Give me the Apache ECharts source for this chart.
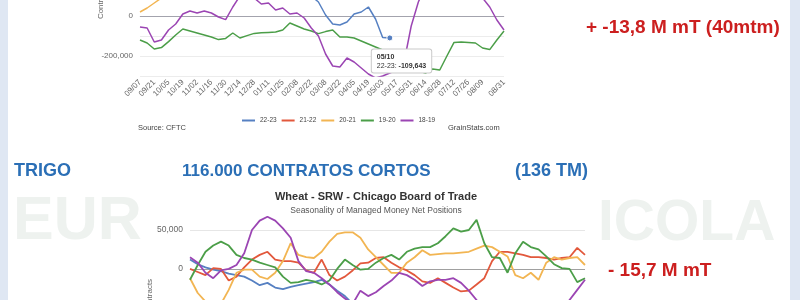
<!DOCTYPE html>
<html><head><meta charset="utf-8">
<script src="https://cdn.jsdelivr.net/npm/echarts@6/dist/echarts.min.js"></script>
<style>html,body{margin:0;padding:0;background:#fff}#c{width:800px;height:300px}</style>
</head><body><div id="c"></div>
<script>
// weekly categories (tick labels)
const weeks = ['09/07','09/14','09/21','09/28','10/05','10/12','10/19','10/26','11/02','11/09','11/16','11/23','11/30','12/07','12/14','12/21','12/28','01/04','01/11','01/18','01/25','02/01','02/08','02/15','02/22','03/01','03/08','03/15','03/22','03/29','04/05','04/12','04/19','04/26','05/03','05/10','05/17','05/24','05/31','06/07','06/14','06/21','06/28','07/05','07/12','07/19','07/26','08/02','08/09','08/16','08/23','08/31'];
const seasons = ['22-23','21-22','20-21','19-20','18-19'];

// Top chart (net positions, contracts)
const top2223 = [180000,200000,210000,230000,250000,260000,250000,240000,230000,220000,215000,210000,200000,190000,185000,180000,170000,165000,160000,150000,140000,130000,120000,110000,100000,70000,5000,-40000,-45000,-30000,10000,20000,45000,-15000,-108000,-109643];
const top2122 = [150000,160000,170000,180000,175000,185000,190000,200000,210000,205000,215000,220000,230000,240000,235000,245000,250000,255000,260000,250000,245000,240000,235000,230000,225000,220000,210000,205000,200000,195000,190000,185000,180000,175000,170000,165000,160000,150000,140000,135000,130000,125000,120000,125000,130000,140000,150000,145000,140000,135000,130000,125000];
const top2021 = [20000,40000,65000,90000,120000,150000,170000,185000,200000,210000,220000,225000,230000,240000,250000,255000,260000,262000,265000,270000,272000,275000,270000,268000,265000,262000,260000,258000,255000,250000,248000,245000,240000,238000,235000,230000,228000,225000,220000,215000,210000,205000,200000,195000,190000,185000,180000,175000,170000,165000,160000,150000];
const top1920 = [-120000,-135000,-165000,-158000,-128000,-95000,-65000,-75000,-85000,-95000,-105000,-118000,-112000,-85000,-110000,-98000,-87000,-84000,-82000,-80000,-70000,-35000,-50000,-65000,-75000,-88000,-78000,-70000,-105000,-105000,-110000,-125000,-140000,-155000,-170000,-185000,-240000,-258000,-262000,-275000,-285000,-265000,-270000,-200000,-132000,-130000,-132000,-135000,-160000,-168000,-120000,-75000];
const top1819 = [-55000,-60000,-130000,-120000,-70000,-40000,10000,25000,15000,25000,15000,-5000,-18000,45000,100000,130000,90000,60000,65000,30000,40000,10000,15000,-10000,-60000,-100000,-190000,-250000,-255000,-210000,-230000,-260000,-290000,-310000,-300000,-285000,-270000,-230000,-50000,70000,150000,200000,220000,200000,180000,160000,150000,120000,90000,45000,-20000,-70000];
const topTicks = [-200000, 0];
const tipIndex = 35; // highlighted point (05/10)

// Bottom chart: Wheat SRW managed money net positions
const bot2223 = [12000,6000,2000,-1000,-3000,-6000,-8000,-10000,-15000,-21000,-18000,-24000,-26000,-23000,-21000,-19000,-17000,-14000,-20000,-28000,-35000,-45000,-55000,-60000,-65000,-70000,-75000,-80000,-85000,-90000,-92000,-95000,-98000,-100000,-102000,-105000];
const bot2122 = [0,-4000,-8000,1000,0,-15000,-10000,2000,12000,18000,22000,12000,10000,10000,8000,-2000,-5000,12000,-8000,-15000,-10000,-2000,7000,8000,14000,15000,8000,2000,-2000,-8000,-16000,-18000,-12000,-18000,-24000,-29000,-28000,-20000,-12000,10000,22000,22000,20000,18000,15000,15000,14000,12000,14000,15000,27000,18000];
const bot2021 = [-12000,-31000,-42000,-50000,-45000,-27000,-5000,-1000,-1000,-10000,-13000,-5000,10000,33000,18000,15000,14000,22000,35000,45000,47000,47000,40000,25000,15000,5000,-5000,-5000,8000,15000,24000,18000,19000,20000,20000,21000,22000,26000,30000,28000,22000,16000,-8000,-12000,-5000,-14000,8000,15000,12000,14000,15000,5000];
const bot1920 = [-14000,5000,22000,30000,35000,30000,18000,14000,12000,8000,5000,2000,-10000,-18000,-17000,-14000,-16000,-20000,-15000,0,12000,5000,-1000,0,8000,14000,18000,12000,22000,26000,28000,28000,33000,42000,52000,48000,50000,63000,33000,15000,14000,-5000,20000,35000,28000,25000,16000,6000,1000,0,-17000,-12000];
const bot1819 = [15000,8000,-5000,-12000,-2000,0,5000,20000,50000,62000,67000,62000,52000,40000,10000,-3000,-5000,-12000,-20000,-30000,-38000,-45000,-28000,-35000,-30000,-22000,-15000,-5000,-8000,-14000,-22000,-16000,-14000,-14000,-12000,-18000,-28000,-40000,-55000,-65000,-70000,-75000,-72000,-68000,-70000,-75000,-72000,-65000,-55000,-40000,-27000,-14000];
const botTicks = [0, 50000];

const lineColors = ['#5680c2','#e2583c','#f2b552','#4b9e48','#9b45b3'];
const fmt = v => v.toLocaleString('en-US');
const chartFont = "'Liberation Sans', Arial, sans-serif";
const slideFont = "'Liberation Sans', Arial, sans-serif";

const topSets = [top2223, top2122, top2021, top1920, top1819];
const botSets = [bot2223, bot2122, bot2021, bot1920, bot1819];

const series = [];
topSets.forEach((arr, i) => {
  const s = {
    name: seasons[i], type: 'line', xAxisIndex: 0, yAxisIndex: 0, data: arr,
    symbol: 'none', smooth: false, silent: true,
    lineStyle: {color: lineColors[i], width: 1.5}, itemStyle: {color: lineColors[i]},
    z: 2 + i
  };
  if (i === 0) {
    s.markLine = {silent: true, symbol: 'none', label: {show: false}, z: 1,
      lineStyle: {color: '#a3a3ad', width: 1, type: 'solid'}, data: [{yAxis: 0}]};
    s.markPoint = {
      silent: true, animation: false, z: 30,
      data: [{
        coord: [tipIndex, arr[tipIndex]], symbol: 'circle', symbolSize: 6,
        itemStyle: {color: lineColors[0], borderColor: '#fff', borderWidth: 1},
        label: {
          show: true, position: 'bottom', distance: 8, offset: [-18, 0], align: 'left',
          backgroundColor: '#ffffff', borderColor: '#c9c9c9', borderWidth: 1, borderRadius: 2,
          padding: [3, 5, 2, 5],
          formatter: '{d|' + weeks[tipIndex] + '}\n{n|' + seasons[0] + ': }{v|' + fmt(arr[tipIndex]) + '}',
          rich: {
            d: {fontSize: 7, fontWeight: 'bold', color: '#333', fontFamily: chartFont, lineHeight: 9, align: 'left'},
            n: {fontSize: 7, color: '#333', fontFamily: chartFont, lineHeight: 9, align: 'left'},
            v: {fontSize: 7, fontWeight: 'bold', color: '#333', fontFamily: chartFont, lineHeight: 9, align: 'left'}
          }
        }
      }]
    };
  }
  series.push(s);
});
botSets.forEach((arr, i) => {
  const s = {
    name: seasons[i], type: 'line', xAxisIndex: 1, yAxisIndex: 1, data: arr,
    symbol: 'none', smooth: false, clip: false, silent: true,
    lineStyle: {color: lineColors[i], width: 1.8}, itemStyle: {color: lineColors[i]},
    z: 2 + i
  };
  if (i === 0) {
    s.markLine = {silent: true, symbol: 'none', label: {show: false}, z: 1,
      data: [
        {yAxis: botTicks[1], lineStyle: {color: '#e6e6e6', width: 1, type: 'solid'}},
        {yAxis: botTicks[0], lineStyle: {color: '#a0a0a0', width: 1, type: 'solid'}}
      ]};
  }
  series.push(s);
});

const txt = (x, y, text, size, color, opts) => ({
  type: 'text', x: x, y: y, silent: true,
  style: {text: text, fill: color, font: (opts && opts.weight ? opts.weight + ' ' : '') + size + 'px ' + ((opts && opts.family) || slideFont),
    textAlign: (opts && opts.align) || 'left', textVerticalAlign: 'middle'}
});

const option = {
  animation: false,
  backgroundColor: '#ffffff',
  textStyle: {fontFamily: chartFont},
  legend: {
    data: seasons, left: 237, top: 112, icon: 'rect', itemWidth: 13, itemHeight: 2, itemGap: 5,
    textStyle: {fontSize: 6.5, color: '#444', fontFamily: chartFont}, selectedMode: false
  },
  grid: [
    {left: 140, right: 296, top: 0, bottom: 224, containLabel: false},
    {left: 190, right: 215, top: 230, bottom: 0, containLabel: false}
  ],
  xAxis: [
    {type: 'category', gridIndex: 0, data: weeks, boundaryGap: false,
     axisLine: {show: true, lineStyle: {color: '#e3e3e3'}}, axisTick: {show: false},
     axisLabel: {rotate: 45, fontSize: 8, color: '#666', margin: 5, fontFamily: chartFont,
       showMaxLabel: true, hideOverlap: false,
       interval: (idx) => idx % 2 === 0 || idx === weeks.length - 1},
     splitLine: {show: false}},
    {type: 'category', gridIndex: 1, data: weeks, boundaryGap: false,
     axisLine: {show: false}, axisTick: {show: false}, axisLabel: {show: false}, splitLine: {show: false}}
  ],
  yAxis: [
    {type: 'value', gridIndex: 0, min: -300000, max: 80000, interval: 100000,
     axisLine: {show: false}, axisTick: {show: false},
     axisLabel: {fontSize: 8, color: '#666', margin: 7, fontFamily: chartFont,
       customValues: topTicks, formatter: v => fmt(v)},
     splitLine: {show: true, showMaxLine: false, lineStyle: {color: '#ececec', width: 1}}},
    {type: 'value', gridIndex: 1, min: -40000, max: 50000,
     axisLine: {show: false}, axisTick: {show: false},
     axisLabel: {fontSize: 8.5, color: '#666', margin: 7, fontFamily: chartFont, customValues: botTicks, formatter: v => fmt(v)},
     splitLine: {show: false}}
  ],
  graphic: [
    {type: 'rect', silent: true, z: -10, shape: {x: 0, y: 0, width: 8, height: 300}, style: {fill: '#dfe7f3'}},
    {type: 'rect', silent: true, z: -10, shape: {x: 790, y: 0, width: 10, height: 300}, style: {fill: '#dfe7f3'}},
    {type: 'text', silent: true, z: -9, x: 13, y: 253, style: {text: 'EUR', fill: '#eef2ef', font: 'bold 61px ' + slideFont, textAlign: 'left', textVerticalAlign: 'bottom'}},
    {type: 'text', silent: true, z: -9, x: 598, y: 253, style: {text: 'ICOLA', fill: '#eef2ef', font: 'bold 57px ' + slideFont, textAlign: 'left', textVerticalAlign: 'bottom'}},
    txt(14, 171, 'TRIGO', 18, '#2b6fb6', {weight: 'bold'}),
    txt(182, 171, '116.000 CONTRATOS CORTOS', 17, '#2b6fb6', {weight: 'bold'}),
    txt(515, 171, '(136 TM)', 18, '#2b6fb6', {weight: 'bold'}),
    txt(586, 28, '+ -13,8 M mT (40mtm)', 19, '#cc1f1f', {weight: 'bold'}),
    txt(608, 271, '- 15,7 M mT', 19, '#cc1f1f', {weight: 'bold'}),
    txt(138, 128, 'Source: CFTC', 7.5, '#444', {family: chartFont}),
    txt(448, 128, 'GrainStats.com', 7.5, '#444', {family: chartFont}),
    txt(376, 197, 'Wheat - SRW - Chicago Board of Trade', 11, '#333', {weight: 'bold', family: chartFont, align: 'center'}),
    txt(376, 211, 'Seasonality of Managed Money Net Positions', 8.5, '#555', {family: chartFont, align: 'center'}),
    {type: 'text', silent: true, x: 101, y: 2, rotation: Math.PI / 2,
     style: {text: 'Contracts', fill: '#666', font: '8px ' + chartFont, textAlign: 'center', textVerticalAlign: 'middle'}},
    {type: 'text', silent: true, x: 150, y: 296, rotation: Math.PI / 2,
     style: {text: 'Contracts', fill: '#666', font: '8px ' + chartFont, textAlign: 'center', textVerticalAlign: 'middle'}}
  ],
  series: series
};

const chart = echarts.init(document.getElementById('c'), null, {renderer: 'canvas'});
chart.setOption(option);
</script>
</body></html>
